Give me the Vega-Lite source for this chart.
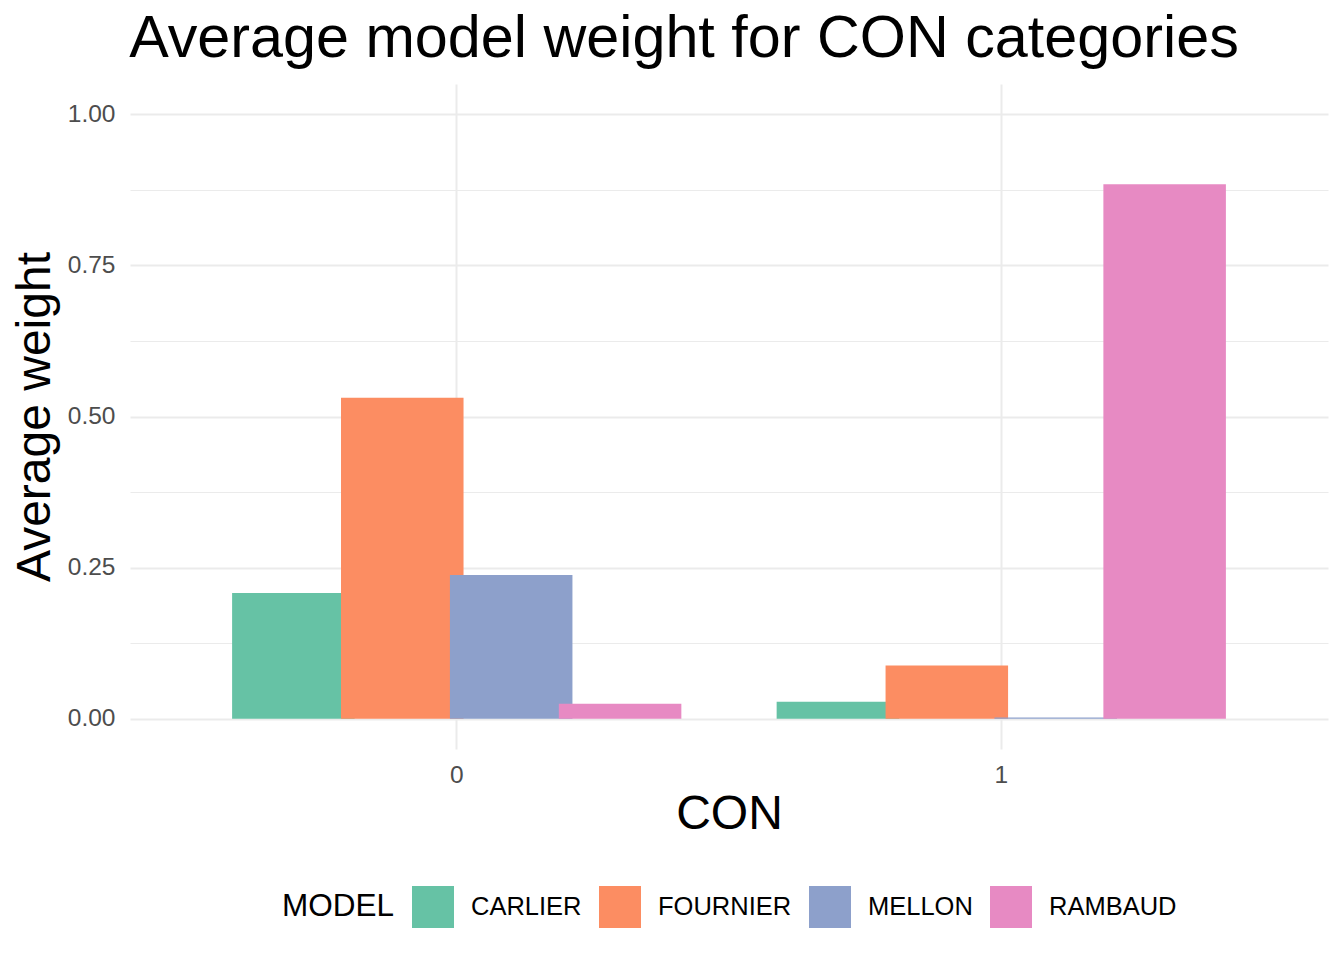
{
  "$schema": "https://vega.github.io/schema/vega-lite/v6.json",
  "width": 1198,
  "height": 665,
  "autosize": {"type": "none"},
  "padding": {"left": 130, "top": 84, "right": 16, "bottom": 211},
  "background": "white",
  "title": {
    "text": "Average model weight for CON categories",
    "font": "Liberation Sans",
    "fontSize": 59.3,
    "fontWeight": "normal",
    "color": "black",
    "anchor": "middle",
    "frame": "group",
    "baseline": "bottom",
    "offset": 13,
    "dx": -45,
    "dy": 57
  },
  "data": {
    "values": [
      {"CON": "0", "MODEL": "CARLIER", "weight": 0.208},
      {"CON": "0", "MODEL": "FOURNIER", "weight": 0.531},
      {"CON": "0", "MODEL": "MELLON", "weight": 0.238},
      {"CON": "0", "MODEL": "RAMBAUD", "weight": 0.025},
      {"CON": "1", "MODEL": "CARLIER", "weight": 0.028},
      {"CON": "1", "MODEL": "FOURNIER", "weight": 0.088},
      {"CON": "1", "MODEL": "MELLON", "weight": 0.002},
      {"CON": "1", "MODEL": "RAMBAUD", "weight": 0.884}
    ]
  },
  "mark": {"type": "bar", "width": {"band": 1.125}},
  "encoding": {
    "x": {
      "field": "CON",
      "type": "nominal",
      "scale": {"paddingInner": 0, "paddingOuter": 0.1},
      "axis": {
        "title": "CON",
        "titleFont": "Liberation Sans",
        "titleFontSize": 48,
        "titleFontWeight": "normal",
        "titleColor": "black",
        "titlePadding": 4,
        "labelFont": "Liberation Sans",
        "labelFontSize": 24.5,
        "labelColor": "#4D4D4D",
        "labelPadding": 14,
        "labelAngle": 0,
        "ticks": false,
        "domain": false,
        "grid": true,
        "gridColor": "#EBEBEB",
        "gridWidth": 2,
        "bandPosition": 0.5
      }
    },
    "xOffset": {
      "field": "MODEL",
      "type": "nominal",
      "scale": {"paddingInner": 0, "paddingOuter": 0.5, "align": 0.75}
    },
    "y": {
      "field": "weight",
      "type": "quantitative",
      "scale": {"domain": [-0.05, 1.05], "nice": false, "zero": false},
      "axis": {
        "title": "Average weight",
        "titleFont": "Liberation Sans",
        "titleFontSize": 48,
        "titleFontWeight": "normal",
        "titleColor": "black",
        "titlePadding": 8,
        "labelFont": "Liberation Sans",
        "labelFontSize": 24.5,
        "labelColor": "#4D4D4D",
        "labelPadding": 15,
        "ticks": false,
        "domain": false,
        "grid": true,
        "gridColor": "#EBEBEB",
        "gridWidth": {"condition": {"test": "datum.value % 0.25 !== 0", "value": 1}, "value": 2},
        "values": [0, 0.125, 0.25, 0.375, 0.5, 0.625, 0.75, 0.875, 1],
        "labelExpr": "datum.value % 0.25 === 0 ? format(datum.value, '.2f') : ''"
      }
    },
    "y2": {"datum": 0},
    "color": {
      "field": "MODEL",
      "type": "nominal",
      "scale": {"range": ["#66C2A5", "#FC8D62", "#8DA0CB", "#E78AC3"]},
      "legend": {
        "orient": "none",
        "legendX": 152,
        "legendY": 802,
        "direction": "horizontal",
        "title": "MODEL",
        "titleOrient": "left",
        "titleFont": "Liberation Sans",
        "titleFontSize": 31.5,
        "titleFontWeight": "normal",
        "titleColor": "black",
        "titlePadding": 17,
        "titleBaseline": "middle",
        "labelFont": "Liberation Sans",
        "labelFontSize": 25.5,
        "labelColor": "black",
        "labelOffset": 17,
        "columnPadding": 17,
        "symbolType": "square",
        "symbolSize": 1764,
        "symbolStrokeWidth": 0,
        "symbolOpacity": 1
      }
    }
  },
  "config": {"view": {"stroke": null}}
}
